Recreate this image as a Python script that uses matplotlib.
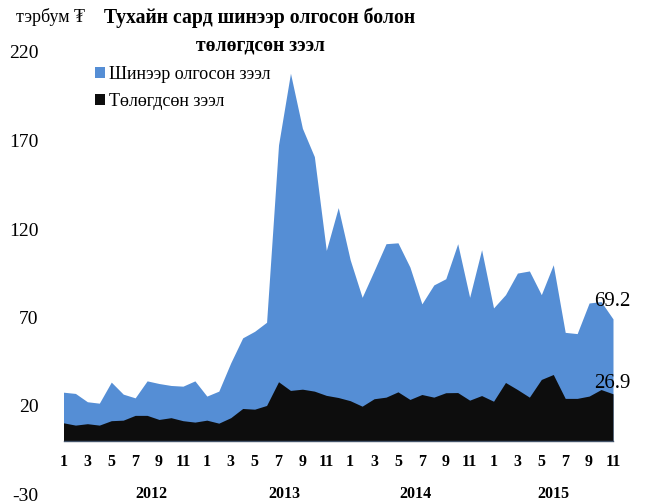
import matplotlib
matplotlib.use("Agg")
import matplotlib.pyplot as plt

plt.rcParams['font.family'] = ['Liberation Serif', 'DejaVu Serif']

# Сар бүрийн өгөгдөл, 2012-01 .. 2015-11 (тэрбум ₮)
new_loans = [27.8, 27.1, 22.4, 21.6, 33.5, 26.7, 24.6, 34.2, 32.7, 31.6, 31.2, 34.2,
             25.6, 28.4, 44.4, 58.5, 62.2, 67.3, 167.5, 208.0, 176.9, 160.9, 107.9, 132.1,
             102.6, 81.4, 96.4, 111.7, 112.2, 98.5, 77.7, 88.4, 91.9, 111.7, 81.4, 108.3,
             75.4, 82.9, 95.1, 96.3, 82.9, 99.8, 61.6, 60.9, 78.2, 79.0, 69.2]
repaid = [10.5, 9.2, 10.0, 9.2, 11.7, 12.0, 14.7, 14.7, 12.4, 13.4, 11.7, 10.9,
          12.0, 10.3, 13.4, 18.6, 18.2, 20.3, 33.7, 28.8, 29.5, 28.4, 26.0, 24.8,
          23.0, 19.9, 24.1, 25.0, 28.0, 23.7, 26.5, 25.0, 27.5, 27.6, 23.3, 25.9,
          22.7, 33.3, 29.3, 25.0, 35.0, 37.8, 24.3, 24.3, 25.6, 29.3, 26.9]
month_labels = ['1', '3', '5', '7', '9', '11']
years = ['2012', '2013', '2014', '2015']
year_pos = [7.4, 18.5, 29.5, 41.0]
yticks = [-30, 20, 70, 120, 170, 220]

BLUE = '#558ED5'
BLACK = '#0D0D0D'

x = list(range(len(new_loans)))

fig = plt.figure(figsize=(6.45, 5.04), dpi=100)
ax = fig.add_axes([63.5 / 645, 9.5 / 504, 549.5 / 645, 442.5 / 504])

ax.fill_between(x, 0, new_loans, color=BLUE, lw=0, label='Шинээр олгосон зээл')
ax.fill_between(x, 0, repaid, color=BLACK, lw=0, label='Төлөгдсөн зээл')

ax.set_xlim(0, len(x) - 1)
ax.set_ylim(-30, 220)
ax.set_yticks(yticks)
ax.set_yticklabels([str(t) for t in yticks], fontsize=14)
ax.tick_params(axis='y', length=0, pad=18)
ax.set_xticks([])

for s in ['top', 'right', 'left']:
    ax.spines[s].set_visible(False)
ax.spines['bottom'].set_position(('data', 0))
ax.spines['bottom'].set_color('#44546A')
ax.spines['bottom'].set_linewidth(1.0)

# сарын шошго
for i in range(0, len(x), 2):
    ax.text(i, -11.5, month_labels[(i % 12) // 2], ha='center', va='center',
            fontsize=11.5, fontweight='bold')
for yr, p in zip(years, year_pos):
    ax.text(p, -29.5, yr, ha='center', va='center', fontsize=11.5, fontweight='bold')

# сүүлийн утгууд
ax.text(len(x) - 2.6, new_loans[-1] + 9.6, f'{new_loans[-1]:.1f}', ha='left', va='center', fontsize=15)
ax.text(len(x) - 2.6, repaid[-1] + 6.0, f'{repaid[-1]:.1f}', ha='left', va='center', fontsize=15)

ax.legend(loc='upper left', bbox_to_anchor=(95 / 645, 1 - 66 / 504),
          bbox_transform=fig.transFigure, frameon=False, fontsize=13,
          handlelength=0.55, handleheight=0.55, handletextpad=0.25,
          labelspacing=0.55, borderpad=0, borderaxespad=0)

fig.text(16 / 645, 1 - 17 / 504, 'тэрбум ₮', fontsize=13, va='center', ha='left')
fig.text(260 / 645, 1 - 8 / 504, 'Тухайн сард шинээр олгосон болон\nтөлөгдсөн зээл',
         fontsize=14.2, fontweight='bold', ha='center', va='top', linespacing=1.45)

fig.savefig('out.png', dpi=100)
